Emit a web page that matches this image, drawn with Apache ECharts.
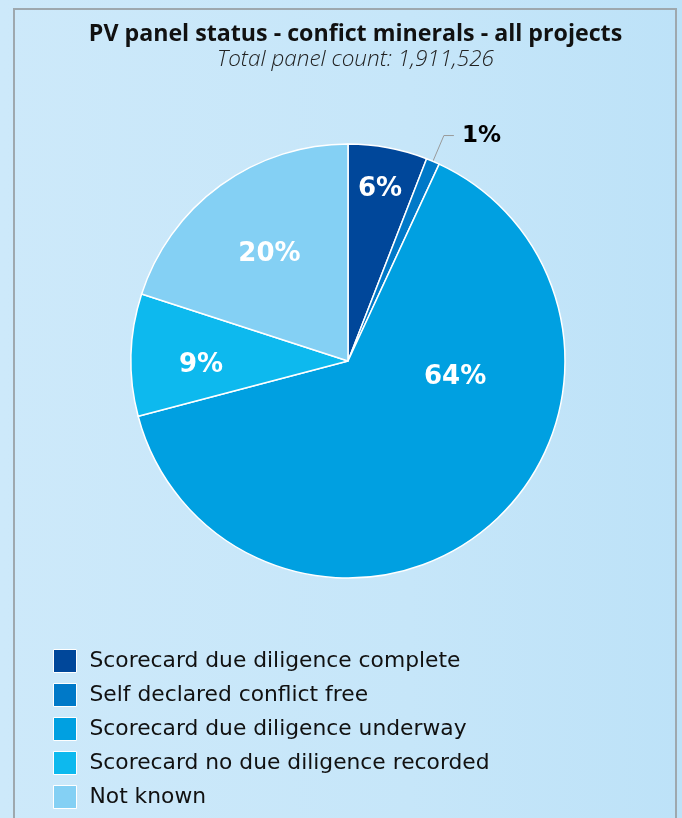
<!DOCTYPE html>
<html>
<head>
<meta charset="utf-8">
<script src="https://cdn.jsdelivr.net/npm/echarts@6/dist/echarts.min.js"></script>
<style>
  html, body { margin: 0; padding: 0; width: 682px; height: 818px; overflow: hidden; }
  body { background: linear-gradient(to right, #cde9fa 0%, #c6e6f9 60%, #bde2f8 100%); position: relative; }
  #frame { position: absolute; left: 13px; top: 8px; width: 664px; height: 830px; border: 2px solid #9ea8ae; box-sizing: border-box; }
  #chart { position: absolute; left: 0; top: 0; width: 682px; height: 818px; }
</style>
</head>
<body>
<div id="frame"></div>
<div id="chart"></div>
<script>
// ---- data ----
const categories = [
  'Scorecard due diligence complete',
  'Self declared conflict free',
  'Scorecard due diligence underway',
  'Scorecard no due diligence recorded',
  'Not known'
];
const shares = [5.9, 1.0, 64.0, 9.1, 20.0];   // percent of panels
const titleText = 'PV panel status - confict minerals - all projects';
const subtitleText = 'Total panel count: 1,911,526';

// ---- styles ----
const palette = ['#00479a', '#0079c8', '#00a0e1', '#0db9ee', '#84d0f4'];
// horizontal nudges (padding) and vertical spacer heights (negative = spacer above)
const labelPads = [[0,0,0,23], null, [0,0,0,71], [0,71,0,0], [0,26,0,0]];
const labelSpacers = [124, 0, 139, -14, 34];

const chart = echarts.init(document.getElementById('chart'), null, {renderer: 'canvas'});

const pieData = categories.map((name, i) => {
  const item = { name: name, value: shares[i], itemStyle: { color: palette[i] } };
  if (i === 1) {
    item.label = {
      position: 'outside', color: '#000', fontSize: 23, fontWeight: 'bold',
      fontFamily: 'DejaVu Sans', distanceToLabelLine: 8, padding: 0,
      formatter: p => Math.round(p.value) + '%'
    };
    item.labelLine = { show: true, length: 28, length2: 10, lineStyle: { color: '#9a9a9a', width: 1 } };
  } else {
    const sp = labelSpacers[i];
    item.label = {
      padding: labelPads[i],
      rich: {
        v: { color: '#ffffff', fontFamily: 'DejaVu Sans', fontWeight: 'bold', fontSize: 26, lineHeight: 30 },
        s: { fontSize: 1, height: Math.abs(sp), lineHeight: Math.abs(sp) }
      },
      formatter: p => {
        const t = '{v|' + Math.round(p.value) + '%}';
        if (sp > 0) return t + '\n{s| }';
        if (sp < 0) return '{s| }\n' + t;
        return t;
      }
    };
  }
  return item;
});

chart.setOption({
  animation: false,
  backgroundColor: 'transparent',
  title: {
    text: titleText,
    subtext: subtitleText,
    left: 355.5,
    top: 21,
    padding: 0,
    textAlign: 'center',
    itemGap: 1,
    textStyle: { fontFamily: 'Open Sans', fontWeight: 'bold', fontSize: 23.2, color: '#111', lineHeight: 26 },
    subtextStyle: { fontFamily: 'Open Sans', fontStyle: 'italic', fontWeight: 300, fontSize: 22.5, color: '#222', lineHeight: 24 }
  },
  legend: {
    orient: 'vertical',
    left: 53,
    top: 649,
    padding: 0,
    itemWidth: 23,
    itemHeight: 23,
    itemGap: 10,
    icon: 'rect',
    selectedMode: false,
    data: categories,
    itemStyle: { borderColor: '#ffffff', borderWidth: 1 },
    textStyle: { fontFamily: 'DejaVu Sans', fontSize: 21.8, color: '#111', padding: [0, 0, 0, 8], lineHeight: 22, height: 22 }
  },
  series: [{
    type: 'pie',
    center: [348, 361],
    radius: 217,
    startAngle: 90,
    clockwise: true,
    avoidLabelOverlap: false,
    emphasis: { disabled: true },
    itemStyle: { borderColor: '#ffffff', borderWidth: 1.5 },
    label: {
      show: true,
      position: 'inside',
      color: '#ffffff',
      fontFamily: 'DejaVu Sans',
      fontWeight: 'bold',
      fontSize: 26
    },
    labelLine: { show: false },
    data: pieData
  }]
});
</script>
</body>
</html>
